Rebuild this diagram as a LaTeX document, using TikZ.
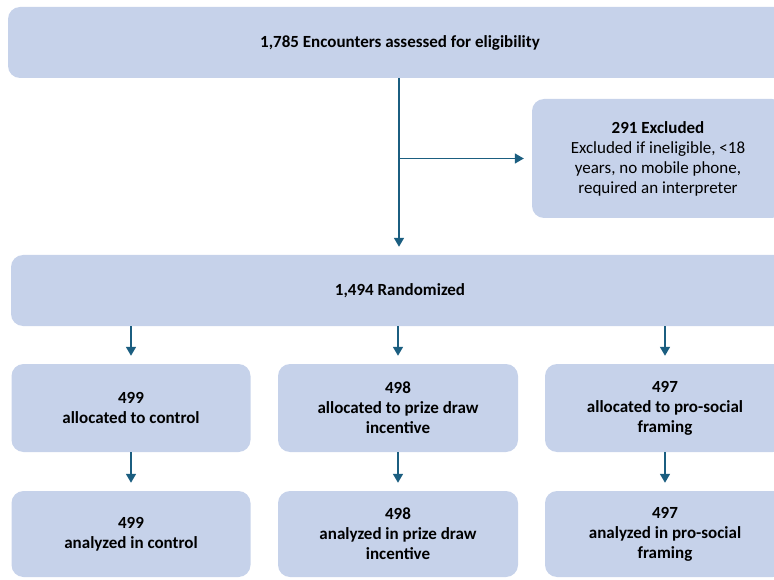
\documentclass[tikz,border=0pt]{standalone}
\usepackage{fontspec}
\setmainfont{Carlito}
\usetikzlibrary{arrows.meta}
\definecolor{boxfill}{RGB}{198,210,234}
\definecolor{arrowcol}{RGB}{27,94,128}
\begin{document}
\begin{tikzpicture}[x=1pt,y=-1pt,
  box/.style={fill=boxfill, draw=none, rounded corners=12pt, align=center, inner sep=0pt,
    font=\fontsize{17}{20}\selectfont},
  conn/.style={draw=arrowcol, line width=1.5pt},
  arr/.style={conn, -{Triangle[width=10pt,length=9pt]}, shorten >=8pt}]
\useasboundingbox (0,0) rectangle (774,580);
\clip (0,0) rectangle (774,580);
\node[box, minimum width=784pt, minimum height=71pt] (top) at (400,42.5) {\textbf{1,785 Encounters assessed for eligibility}};
\node[box, minimum width=252pt, minimum height=119pt] (excl) at (658,158.5) {\textbf{291 Excluded}\\Excluded if ineligible, <18\\years, no mobile phone,\\required an interpreter};
\node[box, minimum width=778pt, minimum height=71pt] (rand) at (400,290.5) {\textbf{1,494 Randomized}};
\node[box, minimum width=239pt, minimum height=88pt] (a1) at (131,408) {\textbf{499}\\\textbf{allocated to control}};
\node[box, minimum width=240pt, minimum height=88pt] (a2) at (398,408) {\textbf{498}\\\textbf{allocated to prize draw}\\\textbf{incentive}};
\node[box, minimum width=240pt, minimum height=88pt] (a3) at (665,408) {\textbf{497}\\\textbf{allocated to pro-social}\\\textbf{framing}};
\node[box, minimum width=239pt, minimum height=86pt] (b1) at (131,534) {\textbf{499}\\\textbf{analyzed in control}};
\node[box, minimum width=240pt, minimum height=86pt] (b2) at (398,534) {\textbf{498}\\\textbf{analyzed in prize draw}\\\textbf{incentive}};
\node[box, minimum width=240pt, minimum height=86pt] (b3) at (665,534) {\textbf{497}\\\textbf{analyzed in pro-social}\\\textbf{framing}};
\coordinate (t0) at (399,78);
\coordinate (br) at (399,158.5);
\draw[arr] (t0) -- (t0 |- rand.north);
\draw[arr] (br) -- (excl.west);
\foreach \n in {1,2,3}{
  \draw[arr] (rand.south -| a\n.north) -- (a\n.north);
  \draw[arr] (a\n.south) -- (b\n.north);
}
\end{tikzpicture}
\end{document}
